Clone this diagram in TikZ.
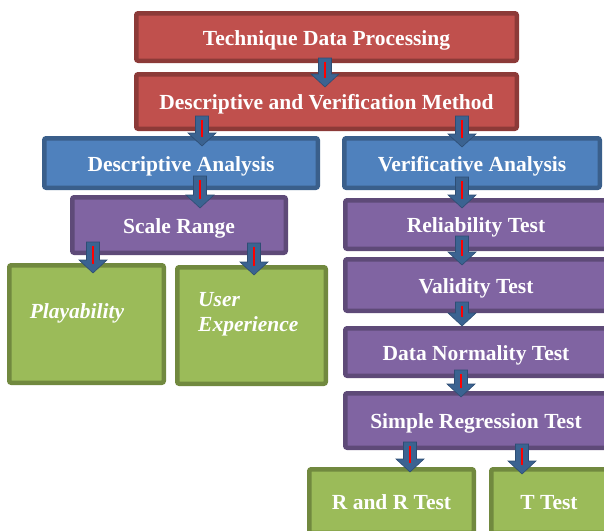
\documentclass[tikz,border=0pt]{standalone}
\usepackage{fontspec}
\setmainfont{Liberation Serif}
\usetikzlibrary{calc}
\definecolor{redF}{HTML}{C0504D}
\definecolor{redD}{HTML}{8C3A38}
\definecolor{blueF}{HTML}{4F81BD}
\definecolor{blueD}{HTML}{3A5F8B}
\definecolor{purF}{HTML}{8064A2}
\definecolor{purD}{HTML}{5E4A78}
\definecolor{grnF}{HTML}{9BBB59}
\definecolor{grnD}{HTML}{71893F}
\definecolor{arrF}{HTML}{3B6391}
\definecolor{arrD}{HTML}{2E4D73}
\newcommand\boxnode[7]{%
  \node[#1, minimum width={#5-#3-4.5}, minimum height={#6-#4-4.5}] (#2) at ({(#3+#5)/2},{(#4+#6)/2}) {#7};}
\newcommand\blockarrow[4]{% name, x, ytop, ytip
  \coordinate (#1s) at (#2,#3);
  \coordinate (#1e) at (#2,#4);
  \filldraw[fill=arrF, draw=arrD, line width=0.6pt]
    ($(#1s)+(-6.5,0)$) -- ($(#1s)+(6.5,0)$) -- ($(#1e)+(6.5,-13)$) -- ($(#1e)+(14,-13)$)
    -- (#1e) -- ($(#1e)+(-14,-13)$) -- ($(#1e)+(-6.5,-13)$) -- cycle;
  \draw[red, line width=2.2pt] ($(#1s)+(0,4)$) -- ($(#1e)+(0,-9)$);}
\begin{document}
\begin{tikzpicture}[x=1pt,y=-1pt,
  box/.style={draw, line width=4.5pt, rounded corners=2pt, text=white,
    font=\bfseries\fontsize{21.5}{24}\selectfont, inner sep=0pt,
    text height=18pt, text depth=2pt},
  redbox/.style={box, fill=redF, draw=redD},
  bluebox/.style={box, fill=blueF, draw=blueD},
  purbox/.style={box, fill=purF, draw=purD},
  grnbox/.style={box, fill=grnF, draw=grnD},
  gtext/.style={text=white, font=\bfseries\itshape\fontsize{21.5}{25}\selectfont, inner sep=0pt}]
\useasboundingbox (0,0) rectangle (604,530);
\clip (0,0) rectangle (604,530);
\boxnode{redbox}{tdp}{134}{11}{519}{63}{Technique Data Processing}
\boxnode{redbox}{dvm}{134}{72}{519}{131}{Descriptive and Verification Method}
\boxnode{bluebox}{da}{42}{136}{320}{190}{Descriptive Analysis}
\boxnode{purbox}{sr}{70}{195}{288}{255}{Scale Range}
\boxnode{grnbox}{play}{7}{263}{166}{385}{}
\node[gtext] (playt) at (77,313) {Playability};
\boxnode{grnbox}{ux}{175}{265}{328}{386}{}
\node[gtext, anchor=west, align=left] (uxt) at (198,314) {User\\Experience};
\boxnode{bluebox}{va}{342}{136}{602}{190}{Verificative Analysis}
\boxnode{purbox}{rel}{343}{198}{609}{251}{Reliability Test}
\boxnode{purbox}{val}{343}{257}{609}{313}{Validity Test}
\boxnode{purbox}{dn}{343}{326}{609}{378}{Data Normality Test}
\boxnode{purbox}{reg}{343}{391}{609}{450}{Simple Regression Test}
\boxnode{grnbox}{rr}{307}{467}{476}{535}{R and R Test}
\boxnode{grnbox}{tt}{489}{467}{609}{535}{T Test}
\blockarrow{a1}{325}{58}{87}
\blockarrow{a2}{202}{116}{146}
\blockarrow{a3}{462}{116}{147}
\blockarrow{a4}{200}{176}{208}
\blockarrow{a5}{93}{242}{273}
\blockarrow{a6}{254}{243}{275}
\blockarrow{a7}{462}{177}{208}
\blockarrow{a8}{462}{236}{265}
\blockarrow{a9}{462}{302}{326}
\blockarrow{a10}{461}{370}{397}
\blockarrow{a11}{410}{442}{472}
\blockarrow{a12}{522}{444}{474}
\end{tikzpicture}
\end{document}
